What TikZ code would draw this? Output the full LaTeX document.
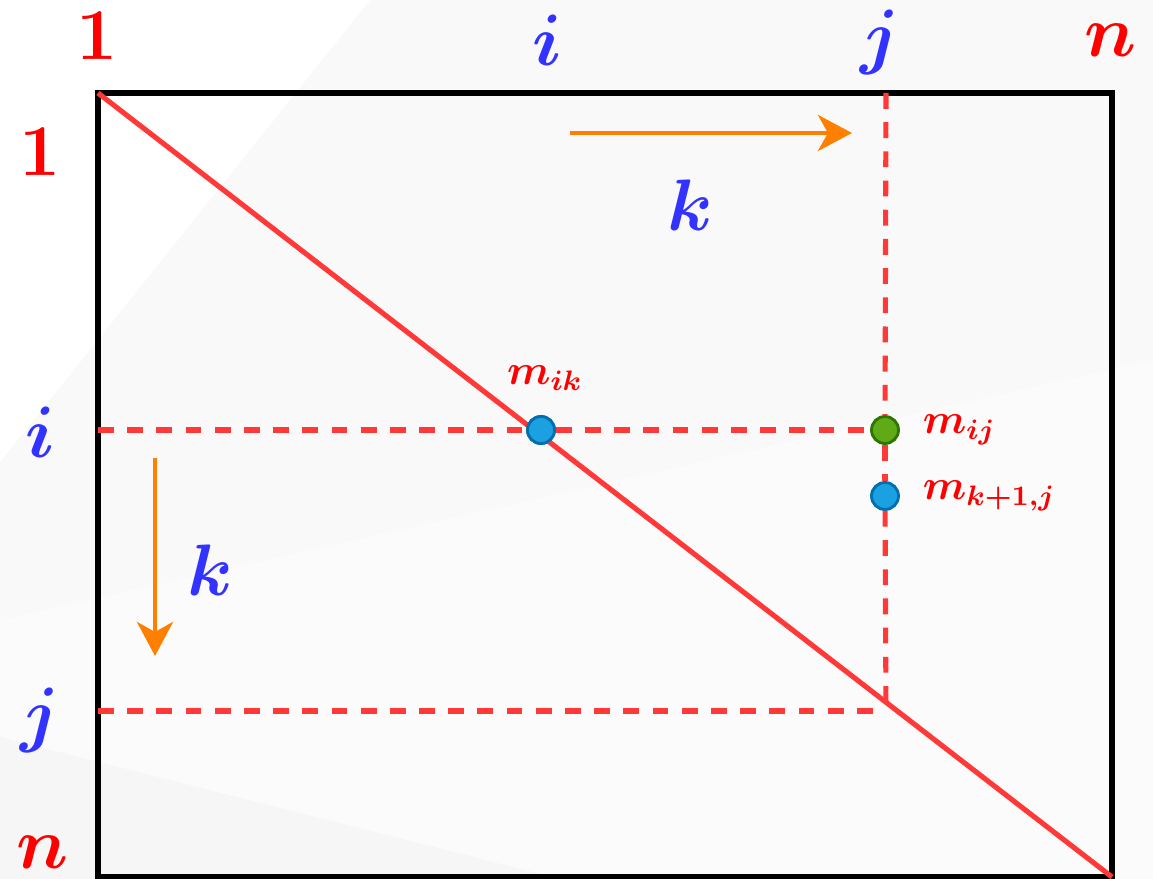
\documentclass[tikz,border=0pt]{standalone}
\usepackage{amsmath}
\usepackage{amssymb}
\usepackage{bm}
\usepackage{xcolor}
\usetikzlibrary{arrows.meta, positioning, calc}

\definecolor{lblred}{HTML}{FF0000}
\definecolor{lblblue}{HTML}{3333FF}
\definecolor{linered}{HTML}{FF3838}
\definecolor{arrorange}{HTML}{FF8000}
\definecolor{dotblue}{HTML}{1BA1E2}
\definecolor{dotblueb}{HTML}{006EAF}
\definecolor{dotgreen}{HTML}{60A917}
\definecolor{dotgreenb}{HTML}{2D7600}

\begin{document}
\begin{tikzpicture}[
        x=0.01cm,
        y=-0.01cm,
        >={Stealth[length=3.4mm, width=3.6mm, inset=1mm]},
        idxred/.style={text=lblred, font=\fontsize{21}{25}\selectfont\boldmath},
        idxblue/.style={text=lblblue, font=\fontsize{21}{25}\selectfont\boldmath},
        entry/.style={text=lblred, font=\large\boldmath, anchor=west},
        dashline/.style={linered, line width=1.45pt, dash pattern=on 4.5pt off 3.8pt},
        karrow/.style={->, arrorange, line width=1.3pt},
        dotb/.style={circle, draw=dotblueb, fill=dotblue, line width=0.8pt, minimum size=0.27cm, inner sep=0pt},
        dotg/.style={circle, draw=dotgreenb, fill=dotgreen, line width=0.8pt, minimum size=0.27cm, inner sep=0pt}
    ]
        % --- Fond (zones grises) ---
        \fill[gray!5] (0,0) rectangle (1153,879);
        \fill[white] (0,0) -- (370,0) -- (0,462) -- cycle;
        \fill[gray!3] (0,620) -- (1153,360) -- (1153,879) -- (0,879) -- cycle;
        \fill[gray!7] (0,737) -- (560,879) -- (0,879) -- cycle;
        \useasboundingbox (0,0) rectangle (1153,879);

        % --- Coins de la matrice ---
        \coordinate (TL) at (98,93);
        \coordinate (BR) at (1112,877);
        \coordinate (Li) at (98,430);    % bord gauche, ligne i
        \coordinate (Lj) at (98,711);    % bord gauche, ligne j
        \coordinate (Tj) at (886,93);    % bord haut, colonne j
        \coordinate (Xjj) at (886,711);  % croisement ligne j / colonne j

        % --- Cadre ---
        \draw[black, line width=1.45pt] (TL) rectangle (BR);

        % --- Indices des colonnes ---
        \node[idxred]  (col1) at (97,36)   {$\mathbf{1}$};
        \node[idxblue] (coli) at (547,40)  {$i$};
        \node[idxblue] (colj) at (880,42)  {$j$};
        \node[idxred]  (coln) at (1110,40) {$n$};

        % --- Indices des lignes ---
        \node[idxred]  (row1) at (40,152) {$\mathbf{1}$};
        \node[idxblue] (rowi) at (40,432) {$i$};
        \node[idxblue] (rowj) at (40,720) {$j$};
        \node[idxred]  (rown) at (42,852) {$n$};

        % --- Points de la matrice ---
        \node[dotb] (mik) at (541,430) {};
        \node[dotg] (mij) at (885,430) {};
        \node[dotb] (mkj) at (885,496) {};

        % --- Lignes pointillees (ligne i, colonne j, ligne j) ---
        \draw[dashline] (Li) -- (mik);
        \draw[dashline] (mik) -- (mij);
        \draw[dashline] (Tj) -- (mij);
        \draw[dashline] (mij) -- (mkj);
        \draw[dashline] (mkj) -- (Xjj);
        \draw[dashline] (Lj) -- (Xjj);

        % --- Diagonale ---
        \draw[linered, line width=1.45pt] (TL) -- (BR);
        \node[dotb] at (mik) {};

        % --- Etiquettes des points ---
        \node[text=lblred, font=\large\boldmath] (lik) at (545,378) {$m_{ik}$};
        \node[entry] (lij) [right=3pt of mij] {$m_{ij}$};
        \node[entry] (lkj) [right=3pt of mkj] {$m_{k+1,j}$};

        % --- Sens de parcours de k ---
        \coordinate (hA) at (570,133);
        \coordinate (hB) at (852,133);
        \draw[karrow] (hA) -- (hB);
        \node[idxblue] (kh) at (690,205) {$k$};

        \coordinate (vA) at (155,458);
        \coordinate (vB) at (155,656);
        \draw[karrow] (vA) -- (vB);
        \node[idxblue] (kv) at (210,570) {$k$};

    \end{tikzpicture}
\end{document}
